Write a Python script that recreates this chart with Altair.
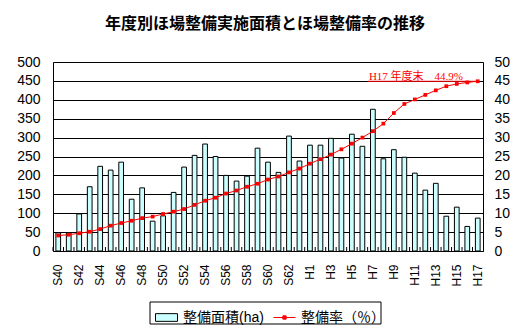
import altair as alt
import pandas as pd

cats = ["S40", "S41", "S42", "S43", "S44", "S45", "S46", "S47", "S48", "S49",
        "S50", "S51", "S52", "S53", "S54", "S55", "S56", "S57", "S58", "S59",
        "S60", "S61", "S62", "S63", "H1", "H2", "H3", "H4", "H5", "H6", "H7",
        "H8", "H9", "H10", "H11", "H12", "H13", "H14", "H15", "H16", "H17"]
area = [48, 48, 98, 170, 224, 214, 235, 137, 167, 79, 93, 155,
        222, 253, 283, 250, 200, 185, 198, 272, 235, 208, 304, 238,
        280, 280, 298, 246,
        309, 277, 375, 244, 268, 248, 206, 161, 179, 92, 116, 65, 87]
pct = [4.1, 4.3, 4.7, 5.1, 5.8, 6.7, 7.4, 8.0, 8.7, 9.1, 9.8, 10.4,
       11.1, 12.2, 13.3, 14.1, 15.2, 16.0, 17.0, 17.8, 18.9, 19.7, 20.8, 21.8,
       23.1, 24.3, 25.5, 26.9,
       28.4, 30.0, 31.7, 33.7, 36.5, 38.9, 40.1, 41.3, 42.5, 43.6, 44.2, 44.6, 44.9]
tick_labels = cats[::2]
left_ticks = list(range(0, 501, 50))
right_ticks = list(range(0, 51, 5))

bar_name = "整備面積(ha)"
line_name = "整備率（％）"
title_text = "年度別ほ場整備実施面積とほ場整備率の推移"
note_text = "H17 年度末　44.9%"
note_from = "H7"
note_to = "H17"
note_value = 44.9

FONT = "Liberation Sans, Noto Sans CJK JP, sans-serif"

bar_df = pd.DataFrame({"cat": cats, "area": area, "series": bar_name})
line_df = pd.DataFrame({"cat": cats, "pct": pct, "series": line_name})
tick_df = pd.DataFrame({"cat": cats})
note_df = pd.DataFrame({"cat": [note_from], "cat_end": [note_to],
                        "v": [note_value], "t": [note_text]})
frame_df = pd.DataFrame({"k": [0]})


def xenc(**kw):
    return alt.X("cat:N", sort=cats,
                 scale=alt.Scale(domain=cats, paddingInner=0, paddingOuter=0),
                 axis=alt.Axis(values=tick_labels, labelAngle=270, ticks=False,
                               labelPadding=13, labelFontSize=12, labelFont=FONT,
                               labelColor="black", domainColor="black",
                               grid=False, title=None),
                 **kw)


def yright(field):
    return alt.Y(f"{field}:Q", scale=alt.Scale(domain=[0, 50]),
                 axis=alt.Axis(orient="right", values=right_ticks, grid=False,
                               ticks=False, labelPadding=11, labelFontSize=14,
                               labelFont=FONT, labelColor="black",
                               domainColor="black", title=None))


bar_legend = alt.Legend(
    title=None, orient="none", legendX=102, legendY=244, padding=0,
    labelFontSize=14, labelFont=FONT, labelColor="black", symbolSize=484,
    labelOffset=5, symbolType="M-1,-0.35H1V0.35H-1Z", symbolStrokeColor="black",
    symbolStrokeWidth=1, symbolOpacity=1,
)
line_legend = alt.Legend(
    title=None, orient="none", legendX=220, legendY=244, padding=0,
    labelFontSize=14, labelFont=FONT, labelColor="black", symbolSize=484,
    labelOffset=5, symbolType="M-1,0H1M-0.15,-0.15H0.15V0.15H-0.15Z",
    symbolFillColor="#FF0000", symbolStrokeWidth=1, symbolOpacity=1,
)

bars = alt.Chart(bar_df).mark_bar(
    stroke="black", strokeWidth=1, width=alt.RelativeBandSize(0.45), opacity=1
).encode(
    x=xenc(),
    y=alt.Y("area:Q", scale=alt.Scale(domain=[0, 500]),
            axis=alt.Axis(values=left_ticks, grid=True, gridColor="black",
                          gridOpacity=1, gridWidth=1, ticks=False,
                          labelPadding=13, labelFontSize=14, labelFont=FONT,
                          labelColor="black", domainColor="black", title=None)),
    fill=alt.Fill("series:N", scale=alt.Scale(domain=[bar_name], range=["#CCFFFF"]),
                  legend=bar_legend),
)

ticks = alt.Chart(tick_df).mark_rule(color="black", strokeWidth=1).encode(
    x=xenc(bandPosition=0), y=alt.value(185), y2=alt.value(189)
)

legend_frame = alt.Chart(frame_df).mark_rect(
    fill="white", fillOpacity=0, stroke="black", strokeWidth=1
).encode(x=alt.value(97), x2=alt.value(328), y=alt.value(240), y2=alt.value(262))

line = alt.Chart(line_df).mark_line(strokeWidth=1).encode(
    x=xenc(), y=yright("pct"),
    stroke=alt.Stroke("series:N", scale=alt.Scale(domain=[line_name], range=["#FF0000"]),
                      legend=line_legend),
)
points = alt.Chart(line_df).mark_point(shape="square", filled=True, size=14,
                                       opacity=1, color="#FF0000").encode(
    x=xenc(), y=yright("pct")
)
note_rule = alt.Chart(note_df).mark_rule(color="#FF0000", strokeWidth=1,
                                         xOffset=-5).encode(
    x=xenc(), x2=alt.X2("cat_end:N"), y=yright("v")
)
note_label = alt.Chart(note_df).mark_text(
    align="left", baseline="alphabetic", dx=-4, dy=-1, color="#FF0000",
    fontSize=11, font="Liberation Serif, Noto Sans CJK JP, serif"
).encode(x=xenc(), y=yright("v"), text="t:N")

right_group = alt.layer(line, points, note_rule, note_label)

chart = alt.layer(bars, ticks, legend_frame, right_group).resolve_scale(
    y="independent"
).properties(
    width=430, height=189,
    title=alt.TitleParams(title_text, font="Noto Sans CJK JP", fontSize=16,
                          fontWeight="bold", anchor="middle", offset=10,
                          frame="group", baseline="alphabetic", dx=-3,
                          color="black"),
    autosize=alt.AutoSizeParams(type="none"),
    padding={"left": 53, "top": 62, "right": 44, "bottom": 82},
).configure_view(
    stroke="black", strokeWidth=1
).configure(background="white")

chart.save("out.html", embed_options={"renderer": "svg", "actions": False})
